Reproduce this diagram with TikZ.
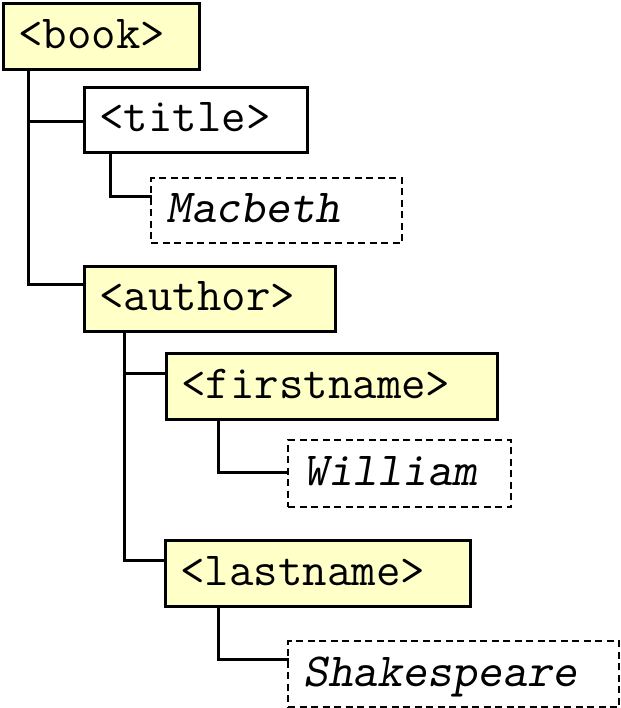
\documentclass[tikz,border=0pt]{standalone}
\usepackage{fontspec}
\definecolor{tagyellow}{RGB}{255,255,200}
\tikzset{
  tag/.style={draw=black, line width=2.6pt, anchor=north west, inner xsep=15pt, inner ysep=0pt,
    font=\fontsize{47.5}{52}\selectfont\ttfamily, text height=30pt, text depth=6pt, align=left},
  elem/.style={tag, fill=tagyellow},
  plain/.style={tag, fill=white},
  val/.style={tag, fill=white, line width=2.2pt, dash pattern=on 7pt off 4.5pt, font=\fontsize{47.5}{52}\selectfont\ttfamily\slshape},
  conn/.style={draw=black, line width=3pt, line cap=rect}}
\begin{document}
\begin{tikzpicture}[x=1pt,y=-1pt]
\useasboundingbox (0,0) rectangle (620,708);
\node[elem, text width=166pt, minimum height=66pt] (book) at (2,2) {<book>};
\node[plain, text width=193pt, minimum height=65pt] (title) at (83,86) {<title>};
\node[val, text width=221pt, minimum height=65pt] (macbeth) at (150,177) {Macbeth};
\node[elem, text width=221pt, minimum height=65pt] (author) at (83,265) {<author>};
\node[elem, text width=301pt, minimum height=66pt] (firstname) at (165,352) {<firstname>};
\node[val, text width=193pt, minimum height=67pt] (william) at (287,439) {William};
\node[elem, text width=275pt, minimum height=66pt] (lastname) at (164,539) {<lastname>};
\node[val, text width=301pt, minimum height=66pt] (shakespeare) at (287,640) {Shakespeare};
\coordinate (bk) at ([xshift=26pt]book.south west);
\coordinate (tiIn) at ([yshift=-36pt]title.north west);
\coordinate (auIn) at ([yshift=-19pt]author.north west);
\path[conn] (bk) |- (auIn);
\path[conn] (bk |- tiIn) -- (tiIn);
\coordinate (ti) at ([xshift=27pt]title.south west);
\path[conn] (ti) |- ([yshift=-20pt]macbeth.north west);
\coordinate (au) at ([xshift=41pt]author.south west);
\coordinate (fnIn) at ([yshift=-21pt]firstname.north west);
\coordinate (lnIn) at ([yshift=-21pt]lastname.north west);
\path[conn] (au) |- (lnIn);
\path[conn] (au |- fnIn) -- (fnIn);
\path[conn] ([xshift=53pt]firstname.south west) |- ([yshift=-33pt]william.north west);
\path[conn] ([xshift=54pt]lastname.south west) |- ([yshift=-19pt]shakespeare.north west);
\end{tikzpicture}
\end{document}
